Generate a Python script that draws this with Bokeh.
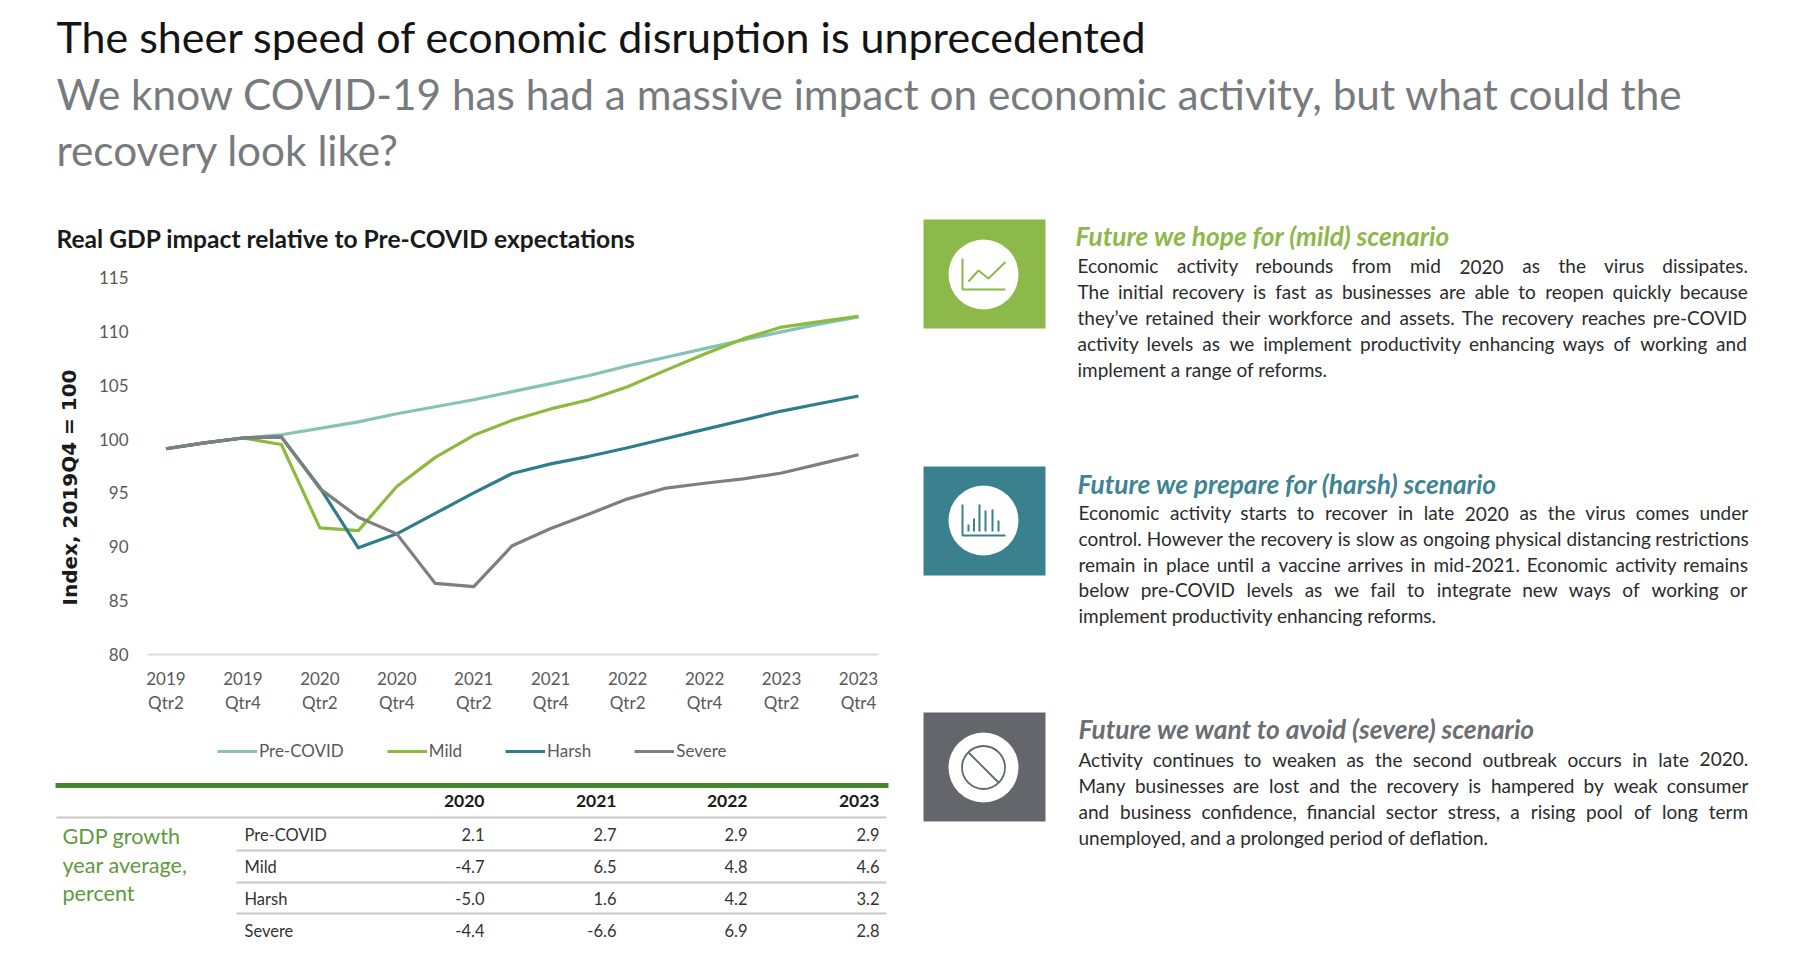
from bokeh.plotting import figure
from bokeh.models import Range1d, FixedTicker, LinearAxis, Legend, LegendItem
from bokeh.core.properties import value
from bokeh.embed import file_html
from bokeh.resources import INLINE

# ---------- data ----------
quarters = list(range(19))
tick_years = ["2019","2019","2020","2020","2021","2021","2022","2022","2023","2023"]
tick_qtrs = ["Qtr2","Qtr4","Qtr2","Qtr4","Qtr2","Qtr4","Qtr2","Qtr4","Qtr2","Qtr4"]
pre_covid = [99.1,99.65,100.1,100.4,101.0,101.6,102.35,103.0,103.65,104.4,105.15,105.9,106.8,107.6,108.4,109.2,109.95,110.7,111.35]
mild = [99.1,99.65,100.1,99.5,91.75,91.5,95.6,98.3,100.35,101.75,102.8,103.65,104.85,106.4,107.9,109.3,110.4,110.9,111.4]
harsh = [99.1,99.65,100.1,100.2,95.5,89.9,91.2,93.1,95.0,96.8,97.7,98.4,99.2,100.05,100.9,101.75,102.6,103.3,104.0]
severe = [99.1,99.65,100.1,100.2,95.4,92.75,91.2,86.6,86.3,90.1,91.7,93.05,94.45,95.45,95.9,96.3,96.85,97.7,98.55]

table_years = ["2020","2021","2022","2023"]
table_names = ["Pre-COVID","Mild","Harsh","Severe"]
table_values = [["2.1","2.7","2.9","2.9"],["-4.7","6.5","4.8","4.6"],["-5.0","1.6","4.2","3.2"],["-4.4","-6.6","6.9","2.8"]]

title_text = "The sheer speed of economic disruption is unprecedented"
subtitle_lines = ["We know COVID-19 has had a massive impact on economic activity, but what could the","recovery look like?"]
chart_title = "Real GDP impact relative to Pre-COVID expectations"
y_title = "Index, 2019Q4 = 100"
side_label = ["GDP growth","year average,","percent"]

panel_heads = ["Future we hope for (mild) scenario","Future we prepare for (harsh) scenario","Future we want to avoid (severe) scenario"]
panel_lines = [
 ["Economic activity rebounds from mid 2020 as the virus dissipates.",
  "The initial recovery is fast as businesses are able to reopen quickly because",
  "they\u2019ve retained their workforce and assets. The recovery reaches pre-COVID",
  "activity levels as we implement productivity enhancing ways of working and",
  "implement a range of reforms."],
 ["Economic activity starts to recover in late 2020 as the virus comes under",
  "control. However the recovery is slow as ongoing physical distancing restrictions",
  "remain in place until a vaccine arrives in mid-2021. Economic activity remains",
  "below pre-COVID levels as we fail to integrate new ways of working or",
  "implement productivity enhancing reforms."],
 ["Activity continues to weaken as the second outbreak occurs in late 2020.",
  "Many businesses are lost and the recovery is hampered by weak consumer",
  "and business confidence, financial sector stress, a rising pool of long term",
  "unemployed, and a prolonged period of deflation."],
]

# ---------- style ----------
FONT = "Lato"
LINE_COLORS = ["#86C2B6", "#8DB93F", "#2E7D8C", "#7F7F80"]
C_AX = "#595959"
P_COL = ["#8DB84A", "#3A808E", "#63666A"]
H_COL = ["#8DB84A", "#3F8492", "#6B6E72"]
BODY = "#2b2b2b"

def pos(x, y):
    return {"position": "absolute", "left": f"{x}px", "top": f"{y}px"}

def blank(x0, x1, y0, y1):
    p = figure(width=x1-x0, height=y1-y0, x_range=Range1d(x0, x1), y_range=Range1d(y1, y0),
               output_backend="svg", toolbar_location=None, x_axis_location=None, y_axis_location=None,
               min_border=0, outline_line_color=None, background_fill_color=None, border_fill_color=None,
               styles=pos(x0, y0))
    p.grid.visible = False
    return p

def put(p, x, y, s, size, color, style="normal", align="left", font=FONT):
    p.text([x], [y - 0.06 * size], text=[s], text_font=value(font), text_font_size=f"{size}px", text_color=color,
           text_font_style=style, text_align=align, text_baseline="alphabetic")

# ---------- headline ----------
top = blank(8, 1792, 8, 212)
put(top, 56, 39, title_text, 43, "#141414")
put(top, 56, 96, subtitle_lines[0], 42.3, "#777B7E")
put(top, 56, 152, subtitle_lines[1], 42.3, "#777B7E")

# ---------- chart ----------
chart = figure(width=897, height=560, x_range=Range1d(-0.48, 18.52), y_range=Range1d(80, 115),
               output_backend="svg", toolbar_location=None, x_axis_location=None, y_axis_location=None,
               min_border_left=139, min_border_right=27, min_border_top=65, min_border_bottom=118,
               outline_line_color=None, background_fill_color=None, border_fill_color=None, styles=pos(8, 212))
chart.grid.visible = False
ticks = quarters[::2]
yax = LinearAxis(ticker=FixedTicker(ticks=[80,85,90,95,100,105,110,115]), axis_line_color=None,
                 major_tick_line_color=None, minor_tick_line_color=None, major_label_standoff=13,
                 major_label_text_font=FONT, major_label_text_font_size="17px", major_label_text_color=C_AX)
chart.add_layout(yax, "left")
xax1 = LinearAxis(ticker=FixedTicker(ticks=ticks), major_label_overrides={t: s for t, s in zip(ticks, tick_years)},
                  axis_line_color="#DDDDDD", axis_line_width=2, major_tick_line_color=None, minor_tick_line_color=None,
                  major_label_standoff=11, major_label_text_font=FONT, major_label_text_font_size="17px", major_label_text_color=C_AX)
xax2 = LinearAxis(ticker=FixedTicker(ticks=ticks), major_label_overrides={t: s for t, s in zip(ticks, tick_qtrs)},
                  axis_line_color=None, major_tick_line_color=None, minor_tick_line_color=None,
                  major_label_standoff=-2, major_label_text_font=FONT, major_label_text_font_size="17px", major_label_text_color=C_AX)
chart.add_layout(xax1, "below")
chart.add_layout(xax2, "below")
for ys, c in zip([pre_covid, mild, harsh, severe], LINE_COLORS):
    chart.line(quarters, ys, line_color=c, line_width=3.2, line_join="round")

# ---------- chart title, axis title and legend ----------
anno = blank(8, 905, 212, 772)
put(anno, 56, 239, chart_title, 24.6, "#1a1a1a", style="bold")
anno.text([69], [487], text=[y_title], angle=1.5708, text_font=value("DejaVu Sans"), text_font_style="bold",
          text_font_size="20px", text_color="#1a1a1a", text_align="center", text_baseline="middle")
items = []
nan = float("nan")
for n, c in zip(table_names, LINE_COLORS):
    items.append(LegendItem(label=n, renderers=[anno.line([nan, nan], [nan, nan], line_color=c, line_width=3.2)]))
legend = Legend(items=items, orientation="horizontal", location=(209, 11), border_line_color=None,
                background_fill_alpha=0, glyph_width=40, glyph_height=16, label_standoff=2, spacing=43,
                margin=0, padding=0, label_text_font=FONT, label_text_font_size="17px", label_text_color=C_AX)
anno.add_layout(legend, "center")

# ---------- table ----------
tab = blank(8, 905, 772, 966)
col_x = [484, 616, 747, 879]
row_y = [835, 867, 899, 931]
tab.line([55, 888], [785, 785], line_color="#43872B", line_width=5)
tab.line([56, 886], [817, 817], line_color="#C8C8C8", line_width=2)
for y in [850, 882, 913]:
    tab.line([236, 886], [y, y], line_color="#C8C8C8", line_width=2)
for x, s in zip(col_x, table_years):
    put(tab, x, 802, s, 17.5, "#1a1a1a", style="bold", align="right")
for y, n, vals in zip(row_y, table_names, table_values):
    put(tab, 244, y, n, 16.5, "#333333")
    for x, s in zip(col_x, vals):
        put(tab, x, y, s, 16.5, "#333333", align="right")
for y, s in zip([837, 866, 894], side_label):
    put(tab, 62, y, s, 21.6, "#5E9A3E")

# ---------- right panels ----------
side = blank(905, 1792, 212, 966)
W = {'a':.49,'b':.56,'c':.46,'d':.56,'e':.51,'f':.33,'g':.51,'h':.55,'i':.24,'j':.24,'k':.50,'l':.24,'m':.82,'n':.55,'o':.57,
     'p':.55,'q':.56,'r':.36,'s':.43,'t':.35,'u':.55,'v':.50,'w':.76,'x':.49,'y':.50,'z':.45,'.':.2,',':.2,'-':.35,'\u2019':.2,
     'H':.76,'M':.9,'A':.68,'E':.58,'T':.58,'C':.66,'O':.8,'V':.68,'I':.27,'D':.75}
def wid(word, size):
    return sum(W.get(ch, .58) for ch in word) * size

BODY_SIZE = 19
def justified(y, line, x0, x1, last):
    words = line.split(" ")
    if last:
        put(side, x0, y, line, BODY_SIZE, BODY)
        return
    total = sum(wid(w, BODY_SIZE) for w in words)
    gap = (x1 - x0 - total) / (len(words) - 1)
    x = x0
    for w in words:
        put(side, x, y + (1.5 if w.isdigit() else 0), w, BODY_SIZE, BODY)
        x += wid(w, BODY_SIZE) + gap

layout = [
    dict(box=(219, 328), cy=274, hy=237, hx=1075, tx=1077, tr=1746, ys=[266, 292, 318, 344, 370], last=[4]),
    dict(box=(466, 575), cy=520, hy=485, hx=1077, tx=1078, tr=1747, ys=[513, 539, 565, 590, 616], last=[4]),
    dict(box=(712, 821), cy=767, hy=730, hx=1078, tx=1078, tr=1747, ys=[760, 786, 812, 838], last=[3]),
]
CX = 983
for i, d in enumerate(layout):
    col = P_COL[i]
    side.quad(left=923, right=1045, top=d["box"][0], bottom=d["box"][1], fill_color=col, line_color=None)
    cy = d["cy"]
    side.scatter([CX], [cy], size=70, marker="circle", fill_color="white", line_color=None)
    if i < 2:
        side.line([CX-21, CX-21, CX+22], [cy-16, cy+15, cy+15], line_color=col, line_width=2)
    if i == 0:
        side.line([CX-15, CX-5, CX+5, CX+22], [cy+7, cy-4, cy+4, cy-12.5], line_color=col, line_width=2)
    if i == 1:
        for dx, t in zip([-15, -9.5, -4, 2, 9, 15], [4, -2, -16, -10, -11, 0]):
            side.line([CX+dx, CX+dx], [cy+11, cy+t], line_color=col, line_width=2)
    if i == 2:
        side.scatter([CX], [cy], size=43, marker="circle", fill_color=None, line_color=col, line_width=1.8)
        side.line([CX-15, CX+15], [cy-15, cy+15], line_color=col, line_width=1.8)
    put(side, d["hx"], d["hy"], panel_heads[i], 26.3, H_COL[i], style="bold italic")
    for j, (y, line) in enumerate(zip(d["ys"], panel_lines[i])):
        justified(y, line, d["tx"], d["tr"], j in d["last"])

open("out.html", "w").write(file_html([top, chart, anno, tab, side], INLINE))
